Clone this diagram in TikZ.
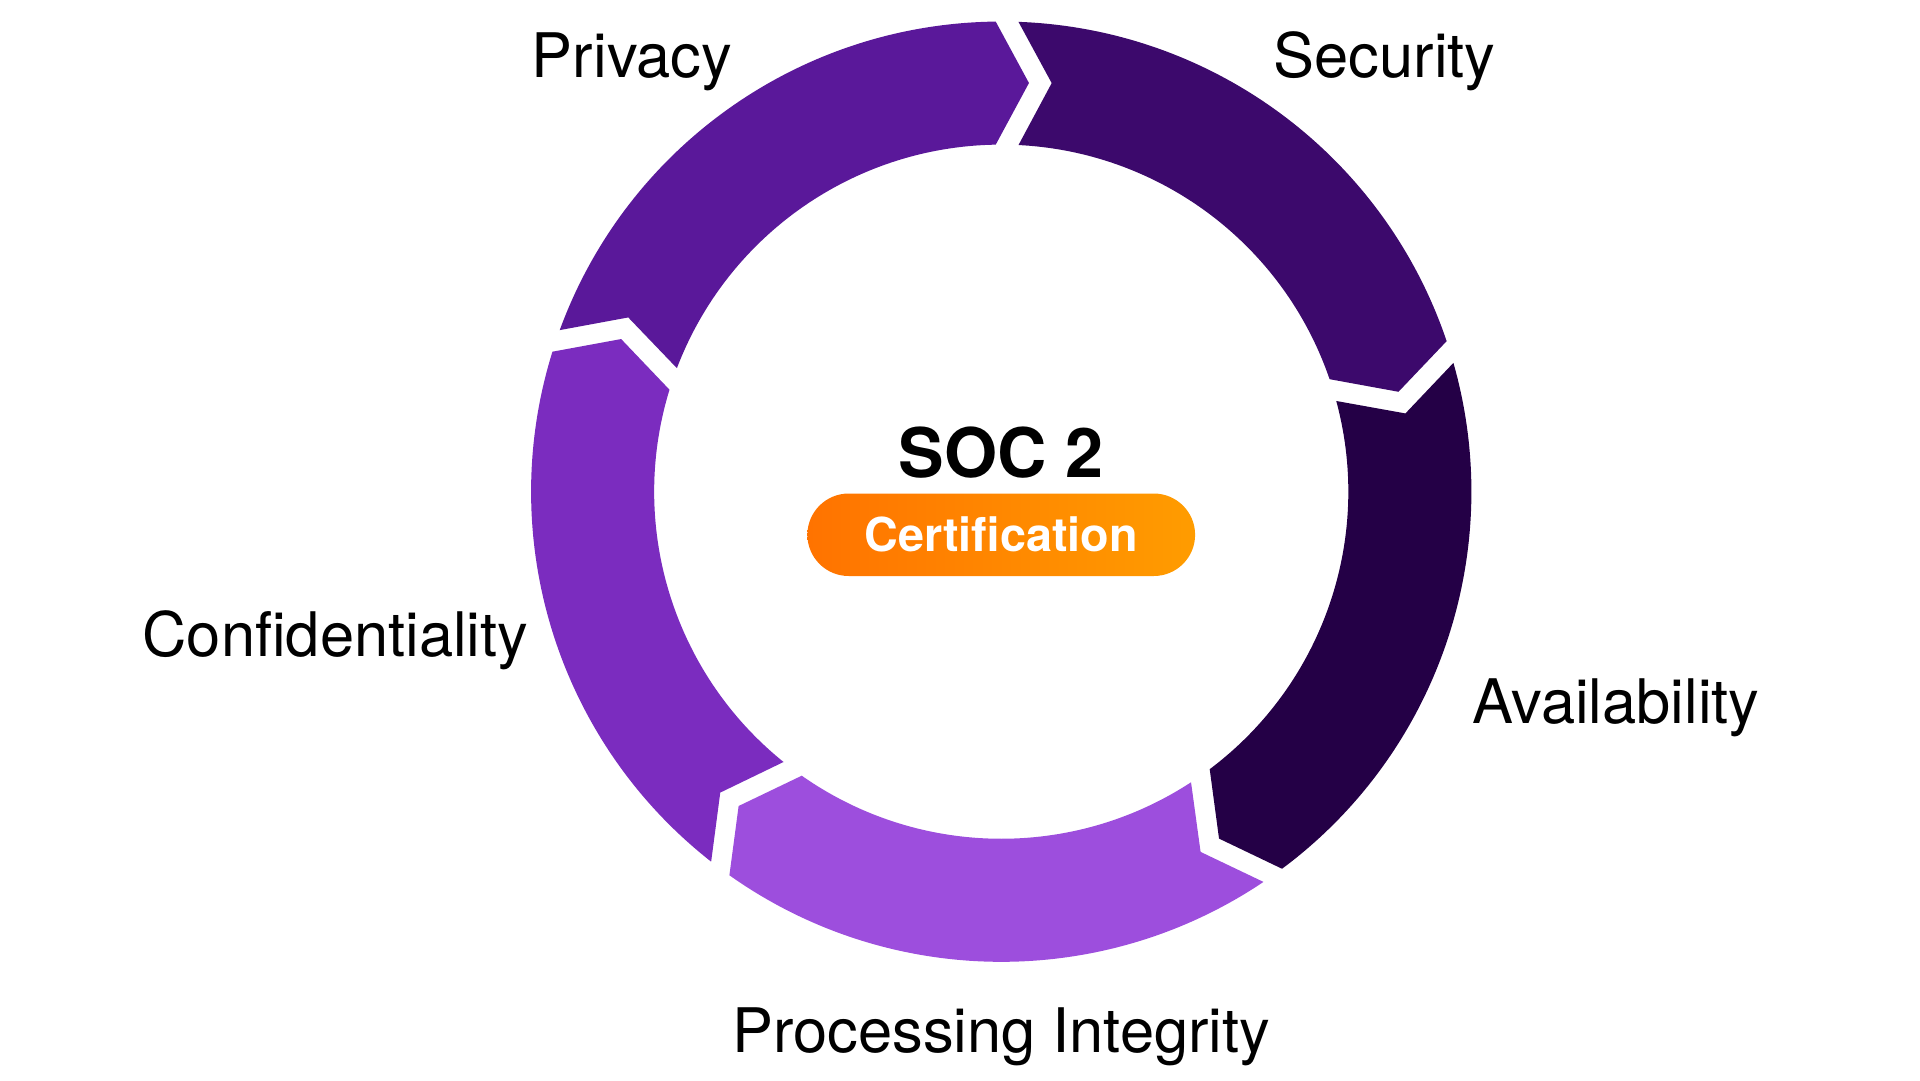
\documentclass[tikz,border=0pt]{standalone}
\usepackage{fontspec}
\setmainfont{TeX Gyre Heros}
\usepackage{xcolor}
\usepackage{tikz}
\definecolor{security}{HTML}{3C096C}
\definecolor{privacy}{HTML}{5A189A}
\definecolor{confidentiality}{HTML}{7B2CBF}
\definecolor{processing}{HTML}{9D4EDD}
\definecolor{availability}{HTML}{240046}
\definecolor{certleft}{HTML}{FF7300}
\definecolor{certright}{HTML}{FF9C00}

\begin{document}
\begin{tikzpicture}[crit/.style={anchor=base, font=\fontsize{14.2}{17}\selectfont}]
        \useasboundingbox (0,0) rectangle (15.6,8.775);
        \begin{scope}[shift={(8.135,4.78)}]
            \foreach \s/\col [evaluate=\s as \e using \s-72] in {162/privacy, 90/security, 18/availability, -54/processing, -126/confidentiality}
                \fill[\col] (\s-2.10:3.82) arc[start angle=\s-2.10, end angle=\e+0.675, radius=3.82]
                    -- (\e-3.88:3.328) -- (\e+0.914:2.82)
                    arc[start angle=\e+0.914, end angle=\s-2.85, radius=2.82]
                    -- (\s-7.04:3.345) -- cycle;
        \end{scope}
        \node[crit] (privacy) at (5.135,8.145) {Privacy};
        \node[crit] (security) at (11.25,8.145) {Security};
        \node[crit] (availability) at (13.13,2.895) {Availability};
        \node[crit] (confidentiality) at (2.725,3.445) {Confidentiality};
        \node[crit] (processing) at (8.135,0.225) {Processing Integrity};
        \node[anchor=base, font=\fontsize{15.8}{19}\selectfont\bfseries] (soc) at (8.135,4.895) {SOC 2};
        \node[rounded corners=0.335cm, minimum width=3.15cm, minimum height=0.67cm, inner sep=0pt,
              left color=certleft, right color=certright, text=white,
              font=\fontsize{10.8}{13}\selectfont\bfseries] (cert) at (8.135,4.43) {Certification};
    \end{tikzpicture}
\end{document}
